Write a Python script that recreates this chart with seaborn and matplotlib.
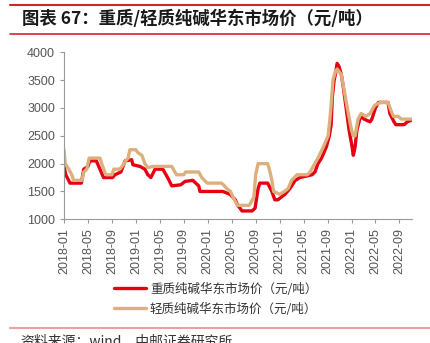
import matplotlib
matplotlib.use("Agg")
import matplotlib.pyplot as plt
import seaborn as sns
import pandas as pd
from matplotlib.lines import Line2D

# ---- data (month index from 2018-01) ----
heavy_month = [0, 0.3, 1, 2.9, 3.3, 4, 4.3, 5.4, 6.6, 8.1, 8.5, 9.5, 10.2, 11.3, 11.5, 12.7, 13.5, 14, 14.5, 15.2,
               16.5, 17.3, 18, 19.5, 20.2, 21.5, 22.5, 22.7, 26.5, 27.7, 28.6, 29, 29.4, 29.7, 31.4, 31.9, 32.4, 32.7,
               34, 34.7, 35.2, 35.7, 36.9, 37.7, 38.6, 39.4, 41.4, 41.9, 42.4, 43, 43.8, 44.3, 44.6, 44.8, 45.1, 45.3,
               45.6, 45.9, 46.3, 46.6, 47.1, 47.6, 48.1, 48.3, 48.6, 48.9, 49.5, 50.1, 51.1, 51.4, 52, 52.5, 54.1,
               54.4, 55.1, 55.4, 56.8, 57.3, 58]
heavy_price = [1950, 1800, 1650, 1650, 1900, 1950, 2050, 2050, 1750, 1750, 1800, 1850, 2050, 2070, 1980, 1950, 1900,
               1800, 1750, 1900, 1900, 1750, 1600, 1620, 1680, 1700, 1600, 1500, 1500, 1450, 1350, 1250, 1200, 1150,
               1150, 1200, 1550, 1650, 1650, 1500, 1350, 1350, 1450, 1550, 1700, 1750, 1800, 1850, 2000, 2100, 2300,
               2500, 2700, 3200, 3500, 3600, 3800, 3750, 3600, 3400, 3000, 2600, 2300, 2150, 2300, 2600, 2850, 2800,
               2750, 2800, 3000, 3100, 3100, 2900, 2750, 2700, 2700, 2750, 2780]
light_month = [0, 0.2, 0.8, 1.3, 1.6, 3, 3.3, 3.8, 4.2, 6, 6.3, 6.8, 7, 8, 8.3, 9.3, 9.7, 10, 10.3, 10.7, 11, 12, 12.3,
               13, 13.5, 14, 15, 18, 18.5, 18.8, 20, 20.3, 22.5, 23, 23.9, 26.3, 26.8, 27.2, 27.8, 28.2, 28.7, 29, 30.9,
               31.2, 31.7, 32, 32.4, 34, 34.4, 34.7, 35, 36, 36.8, 37.4, 38, 38.9, 40.6, 41.1, 41.6, 42.4, 43.3, 44.1,
               44.4, 44.7, 44.9, 45.3, 45.6, 46.3, 46.8, 47.3, 48, 48.3, 48.6, 49.1, 49.6, 50.4, 51.1, 51.6, 51.9,
               52.8, 54.1, 54.6, 55, 55.8, 56.3, 58]
light_price = [2250, 2000, 1900, 1800, 1700, 1700, 1850, 1900, 2100, 2100, 2000, 1850, 1800, 1800, 1900, 1900, 1950,
               2000, 2050, 2100, 2250, 2250, 2200, 2150, 2000, 1930, 1950, 1950, 1850, 1800, 1800, 1850, 1850, 1750,
               1650, 1650, 1600, 1550, 1500, 1400, 1300, 1250, 1250, 1300, 1400, 1800, 2000, 2000, 1850, 1700, 1500,
               1450, 1500, 1550, 1700, 1800, 1800, 1850, 1950, 2100, 2300, 2500, 2800, 3200, 3500, 3650, 3700, 3600,
               3300, 3000, 2600, 2500, 2500, 2800, 2900, 2850, 2900, 3000, 3050, 3100, 3100, 2950, 2850, 2850, 2800,
               2800]
tick_pos = list(range(0, 57, 4))
tick_labels = ["2018-01", "2018-05", "2018-09", "2019-01", "2019-05", "2019-09", "2020-01", "2020-05",
               "2020-09", "2021-01", "2021-05", "2021-09", "2022-01", "2022-05", "2022-09"]
series_names = ["重质纯碱华东市场价（元/吨）", "轻质纯碱华东市场价（元/吨）"]
colors = ["#e60012", "#dcb07c"]

sns.set_style("white")
plt.rcParams['font.family'] = ['Liberation Sans', 'Noto Sans CJK SC', 'DejaVu Sans']

df = pd.concat([
    pd.DataFrame({"month": heavy_month, "price": heavy_price, "series": series_names[0]}),
    pd.DataFrame({"month": light_month, "price": light_price, "series": series_names[1]}),
])

W, H = 431, 343
fig = plt.figure(figsize=(W / 100, H / 100), dpi=100)
ax = fig.add_axes([64 / W, 1 - 219.3 / H, (412 - 64) / W, (219.3 - 52.3) / H])

sns.lineplot(data=df, x="month", y="price", hue="series", palette=colors, hue_order=series_names,
             linewidth=2.4, ax=ax, legend=False, sort=False)

ax.set_xlim(0, 58.1)
ax.set_ylim(1000, 4000)
ax.set_yticks([1000, 1500, 2000, 2500, 3000, 3500, 4000])
ax.set_xticks(tick_pos)
ax.set_xticklabels(tick_labels, rotation=90)
ax.set_xlabel("")
ax.set_ylabel("")
for s in ["top", "right"]:
    ax.spines[s].set_visible(False)
for s in ["left", "bottom"]:
    ax.spines[s].set_color("#999999")
    ax.spines[s].set_linewidth(0.8)
ax.tick_params(axis="both", labelsize=9, colors="#999999", labelcolor="#555555", length=3, width=0.8,
               direction="out", bottom=True, left=True)

handles = [Line2D([0], [0], color=c, lw=2.4) for c in colors]
fig.legend(handles, series_names, loc="center", bbox_to_anchor=(0.5, 1 - 299 / H), ncol=1, frameon=False,
           handlelength=2.6, handletextpad=0.3, labelspacing=0.55, labelcolor="#333333",
           prop={"family": ["Noto Sans CJK SC"], "size": 9})

# header/footer decoration
fig.add_artist(Line2D([10 / W, 1.0], [1 - 5 / H, 1 - 5 / H], color="#d0262d", lw=1.5))
fig.add_artist(Line2D([10 / W, 1.0], [1 - 33.5 / H, 1 - 33.5 / H], color="#d0262d", lw=1.2))
fig.text(22 / W, 1 - 19 / H, "图表 67：重质/轻质纯碱华东市场价（元/吨）", fontsize=12.5, fontweight="bold",
         color="#1a1a1a", va="center", ha="left", family=["Noto Sans CJK SC", "DejaVu Sans"])
fig.add_artist(Line2D([10 / W, 1.0], [1 - 328 / H, 1 - 328 / H], color="#e8a0a0", lw=1.5))
fig.text(20 / W, 1 - 334 / H, "资料来源：wind，中邮证券研究所", fontsize=10, color="#333333", va="top",
         ha="left", family=["Noto Sans CJK SC", "DejaVu Sans"])

fig.savefig("out.png", dpi=100)
